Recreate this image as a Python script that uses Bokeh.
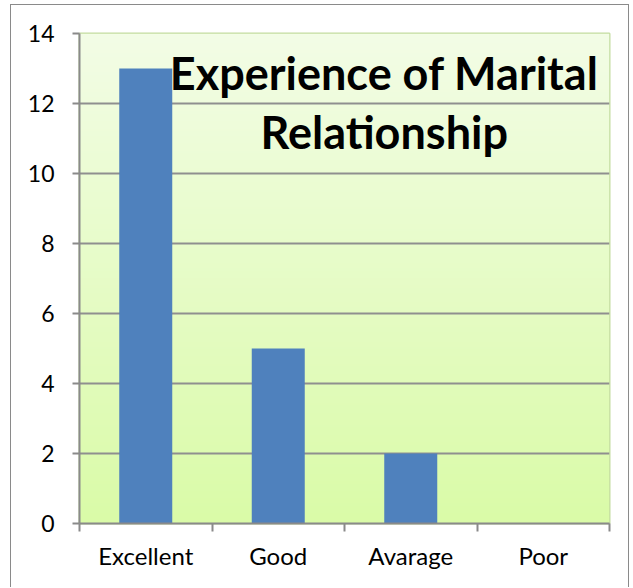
import numpy as np
from bokeh.plotting import figure
from bokeh.models import Range1d, FixedTicker, Label
from bokeh.embed import file_html
from bokeh.resources import INLINE

# ---- data ----
categories = ["Excellent", "Good", "Avarage", "Poor"]
values = [13, 5, 2, 0]
y_ticks = [0, 2, 4, 6, 8, 10, 12, 14]
title_lines = ["Experience of Marital", "Relationship"]

n = len(categories)
centers = [i + 0.5 for i in range(n)]
bounds = list(range(n + 1))

p = figure(width=619, height=583, output_backend="svg", toolbar_location=None,
           x_range=Range1d(0, n), y_range=Range1d(0, 14),
           min_border_left=68, min_border_right=21, min_border_top=28, min_border_bottom=65,
           background_fill_color=None, border_fill_color="white")
p.margin = (4, 0, 0, 10)
p.styles = {"border-top": "1px solid #8a8a8a", "border-left": "1px solid #8a8a8a",
            "border-right": "1px solid #8a8a8a"}

# gradient background of the plot area
N = 200
img = np.zeros((N, 1), dtype=np.uint32)
view = img.view(dtype=np.uint8).reshape((N, 1, 4))
top = np.array([0xF3, 0xFD, 0xE6])
bot = np.array([0xDA, 0xFB, 0xA8])
for r in range(N):
    t = r / (N - 1)  # 0 bottom, 1 top
    c = bot + (top - bot) * t
    view[r, 0, 0:3] = c.astype(np.uint8)
    view[r, 0, 3] = 255
p.image_rgba(image=[img], x=0, y=0, dw=n, dh=14, level="image")

p.outline_line_color = "#C3DCA0"
p.outline_line_width = 2

# grid
p.xgrid.grid_line_color = None
p.ygrid.grid_line_color = "#8F8F8F"
p.ygrid.grid_line_width = 2
p.ygrid.ticker = FixedTicker(ticks=y_ticks)

# bars
p.vbar(x=centers, top=values, width=0.4, color="#4F81BD", line_color=None)

# title inside plot area
lbl = Label(x=2.3, y=13.65, text="\n".join(title_lines), text_align="center",
            text_baseline="top", text_font="Lato", text_font_style="bold",
            text_font_size="45px", text_color="black", text_line_height=1.09)
p.add_layout(lbl)

# y axis
ya = p.yaxis[0]
ya.ticker = FixedTicker(ticks=y_ticks)
ya.axis_line_color = "#8A8A8A"
ya.axis_line_width = 2
ya.major_tick_line_color = "#8A8A8A"
ya.major_tick_line_width = 2
ya.major_tick_out = 7
ya.major_tick_in = 0
ya.minor_tick_line_color = None
ya.major_label_text_font = "Lato"
ya.major_label_text_font_size = "23px"
ya.major_label_text_color = "black"
ya.major_label_standoff = 18

# x axis
xa = p.xaxis[0]
xa.ticker = FixedTicker(ticks=centers, minor_ticks=bounds)
xa.major_label_overrides = {c: lab for c, lab in zip(centers, categories)}
xa.axis_line_color = "#8A8A8A"
xa.axis_line_width = 2
xa.major_tick_line_color = None
xa.minor_tick_line_color = "#8A8A8A"
xa.minor_tick_line_width = 2
xa.minor_tick_out = 8
xa.minor_tick_in = 0
xa.major_label_text_font = "Lato"
xa.major_label_text_font_size = "24px"
xa.major_label_text_color = "black"
xa.major_label_standoff = 9

open("out.html", "w").write(file_html(p, INLINE))
